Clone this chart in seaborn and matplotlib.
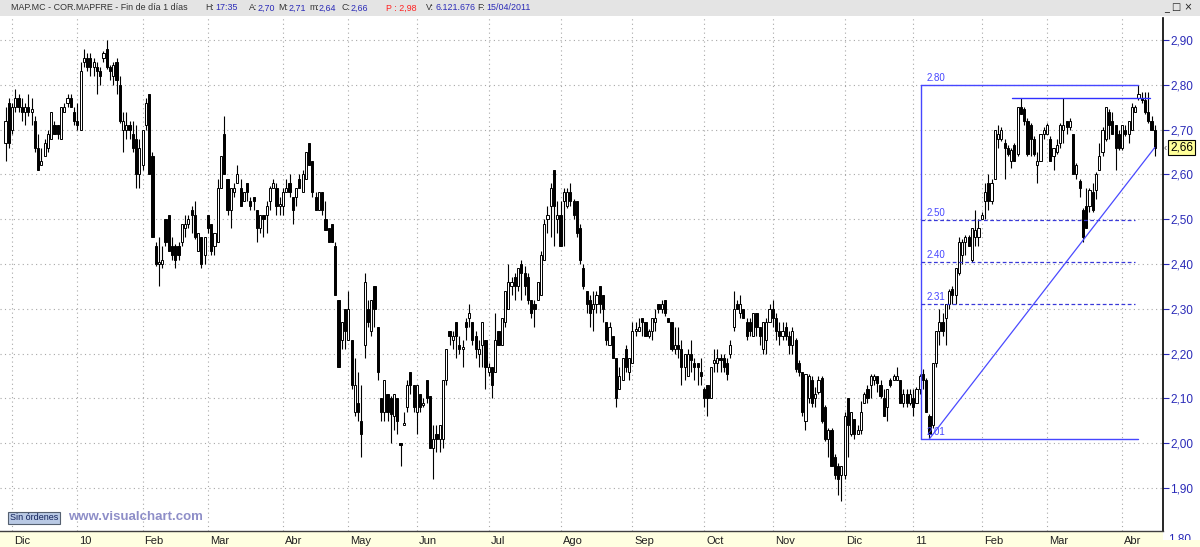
import matplotlib
matplotlib.use("Agg")
import matplotlib.pyplot as plt
import matplotlib.transforms as mtransforms
import numpy as np
import pandas as pd
import seaborn as sns

# ---- data: daily candles of COR.MAPFRE, 27/11/2009 .. 15/04/2011 ----
opens = [
    # Nov-Dec 2009
    2.67, 2.76, 2.70, 2.75, 2.77, 2.75, 2.74, 2.75, 2.74, 2.72, 2.66, 2.62, 2.64, 2.66, 2.68, 2.71, 2.71, 2.68, 2.74, 2.76, 2.77, 2.74,
    # Jan 2010
    2.72, 2.70, 2.85, 2.86, 2.86, 2.84, 2.84, 2.83, 2.86, 2.88, 2.84, 2.82, 2.85, 2.80, 2.70, 2.70, 2.71, 2.69, 2.68, 2.60,
    # Feb
    2.62, 2.71, 2.78, 2.64, 2.44, 2.40, 2.40, 2.50, 2.51, 2.44, 2.44, 2.44, 2.45, 2.48, 2.49, 2.52, 2.51, 2.43, 2.46, 2.42,
    # Mar
    2.51, 2.49, 2.44, 2.45, 2.57, 2.69, 2.59, 2.52, 2.56, 2.58, 2.57, 2.54, 2.58, 2.54, 2.55, 2.52, 2.48, 2.51, 2.51, 2.54, 2.57, 2.57, 2.53,
    # Apr
    2.53, 2.56, 2.58, 2.55, 2.55, 2.59, 2.56, 2.59, 2.67, 2.63, 2.55, 2.52, 2.56, 2.50, 2.48, 2.49, 2.44, 2.32, 2.23, 2.30,
    # May
    2.23, 2.23, 2.07, 2.09, 2.05, 2.22, 2.30, 2.25, 2.35, 2.26, 2.10, 2.07, 2.11, 2.10, 2.06, 2.10, 2.00, 2.04, 2.08, 2.16, 2.13,
    # Jun
    2.07, 2.11, 2.085, 2.14, 2.105, 1.99, 2.02, 2.01, 2.01, 2.14, 2.25, 2.23, 2.27, 2.22, 2.21, 2.27, 2.28, 2.27, 2.24, 2.20, 2.22, 2.23,
    # Jul
    2.16, 2.17, 2.16, 2.25, 2.22, 2.27, 2.30, 2.35, 2.37, 2.35, 2.40, 2.38, 2.37, 2.32, 2.31, 2.32, 2.33, 2.41, 2.50, 2.53, 2.61, 2.50,
    # Aug
    2.51, 2.54, 2.53, 2.56, 2.54, 2.54, 2.48, 2.39, 2.34, 2.32, 2.30, 2.31, 2.35, 2.33, 2.27, 2.22, 2.24, 2.19, 2.12, 2.14, 2.21, 2.16,
    # Sep
    2.18, 2.25, 2.25, 2.28, 2.27, 2.24, 2.25, 2.27, 2.31, 2.30, 2.32, 2.28, 2.27, 2.21, 2.22, 2.21, 2.17, 2.15, 2.20, 2.18, 2.18, 2.16,
    # Oct
    2.12, 2.13, 2.10, 2.18, 2.18, 2.19, 2.19, 2.18, 2.20, 2.26, 2.31, 2.29, 2.30, 2.27, 2.27, 2.24, 2.29, 2.26, 2.21, 2.23, 2.27,
    # Nov
    2.30, 2.28, 2.25, 2.24, 2.26, 2.24, 2.22, 2.23, 2.18, 2.16, 2.05, 2.10, 2.14, 2.10, 2.115, 2.145, 2.08, 2.01, 2.03, 1.97, 1.95, 1.93,
    # Dec
    1.93, 2.10, 2.02, 2.055, 2.02, 2.03, 2.09, 2.12, 2.13, 2.14, 2.15, 2.13, 2.10, 2.08, 2.14, 2.14, 2.14, 2.14, 2.09, 2.11, 2.09,
    # Jan 2011
    2.10, 2.09, 2.12, 2.155, 2.14, 2.06, 2.04, 2.18, 2.25, 2.27, 2.28, 2.31, 2.345, 2.33, 2.38, 2.42, 2.45, 2.46, 2.41, 2.46, 2.46,
    # Feb
    2.50, 2.54, 2.58, 2.54, 2.59, 2.68, 2.68, 2.67, 2.66, 2.63, 2.665, 2.645, 2.75, 2.745, 2.72, 2.71, 2.68, 2.62, 2.63, 2.69,
    # Mar
    2.69, 2.68, 2.64, 2.65, 2.67, 2.70, 2.72, 2.705, 2.69, 2.60, 2.585, 2.52, 2.53, 2.53, 2.56, 2.565, 2.61, 2.65, 2.68, 2.74, 2.72, 2.71, 2.69,
    # Apr
    2.66, 2.70, 2.69, 2.70, 2.74, 2.77, 2.77, 2.765, 2.74, 2.72, 2.70,
]
highs = [
    2.75, 2.77, 2.76, 2.79, 2.78, 2.77, 2.76, 2.78, 2.77, 2.73, 2.69, 2.66, 2.68, 2.70, 2.74, 2.72, 2.71, 2.75, 2.76, 2.78, 2.78, 2.75,
    2.76, 2.85, 2.88, 2.87, 2.87, 2.86, 2.85, 2.84, 2.875, 2.90, 2.845, 2.85, 2.86, 2.82, 2.74, 2.74, 2.72, 2.72, 2.71, 2.68,
    2.70, 2.77, 2.78, 2.65, 2.45, 2.46, 2.44, 2.50, 2.51, 2.46, 2.445, 2.45, 2.49, 2.51, 2.51, 2.53, 2.54, 2.47, 2.46, 2.46,
    2.51, 2.49, 2.47, 2.59, 2.64, 2.73, 2.59, 2.57, 2.58, 2.62, 2.59, 2.56, 2.58, 2.55, 2.55, 2.52, 2.51, 2.51, 2.54, 2.575, 2.59, 2.58, 2.55,
    2.57, 2.59, 2.60, 2.55, 2.57, 2.60, 2.61, 2.65, 2.67, 2.63, 2.56, 2.56, 2.56, 2.54, 2.48, 2.49, 2.45, 2.32, 2.27, 2.30,
    2.34, 2.23, 2.19, 2.16, 2.13, 2.38, 2.32, 2.32, 2.35, 2.26, 2.10, 2.14, 2.11, 2.105, 2.11, 2.10, 2.00, 2.07, 2.14, 2.16, 2.13,
    2.13, 2.11, 2.10, 2.14, 2.105, 2.04, 2.04, 2.04, 2.14, 2.21, 2.25, 2.25, 2.27, 2.24, 2.23, 2.28, 2.31, 2.27, 2.25, 2.23, 2.27, 2.23,
    2.18, 2.17, 2.29, 2.25, 2.28, 2.34, 2.40, 2.37, 2.38, 2.39, 2.41, 2.395, 2.38, 2.32, 2.32, 2.36, 2.43, 2.50, 2.53, 2.58, 2.61, 2.54,
    2.54, 2.57, 2.57, 2.58, 2.545, 2.54, 2.49, 2.40, 2.34, 2.33, 2.34, 2.34, 2.35, 2.33, 2.27, 2.27, 2.24, 2.19, 2.17, 2.19, 2.22, 2.19,
    2.27, 2.27, 2.28, 2.28, 2.27, 2.255, 2.28, 2.30, 2.31, 2.32, 2.32, 2.28, 2.27, 2.26, 2.26, 2.23, 2.20, 2.21, 2.23, 2.19, 2.18, 2.19,
    2.125, 2.13, 2.17, 2.21, 2.21, 2.20, 2.20, 2.19, 2.23, 2.34, 2.32, 2.33, 2.30, 2.28, 2.28, 2.29, 2.29, 2.26, 2.27, 2.28, 2.31,
    2.32, 2.29, 2.27, 2.27, 2.27, 2.25, 2.26, 2.235, 2.185, 2.16, 2.155, 2.155, 2.15, 2.125, 2.15, 2.15, 2.085, 2.035, 2.035, 1.975, 1.955, 1.95,
    2.07, 2.10, 2.07, 2.055, 2.04, 2.095, 2.115, 2.13, 2.155, 2.155, 2.15, 2.14, 2.12, 2.12, 2.145, 2.155, 2.17, 2.14, 2.12, 2.12, 2.12,
    2.12, 2.125, 2.155, 2.165, 2.145, 2.065, 2.18, 2.25, 2.30, 2.29, 2.31, 2.345, 2.35, 2.39, 2.46, 2.455, 2.465, 2.465, 2.48, 2.52, 2.50,
    2.515, 2.58, 2.60, 2.59, 2.70, 2.71, 2.705, 2.68, 2.665, 2.66, 2.67, 2.75, 2.77, 2.75, 2.725, 2.715, 2.685, 2.65, 2.69, 2.705,
    2.715, 2.685, 2.66, 2.68, 2.715, 2.77, 2.72, 2.725, 2.69, 2.625, 2.59, 2.525, 2.57, 2.57, 2.58, 2.605, 2.67, 2.705, 2.75, 2.745, 2.74, 2.71, 2.70,
    2.71, 2.71, 2.72, 2.76, 2.755, 2.80, 2.785, 2.785, 2.785, 2.73, 2.71,
]
lows = [
    2.63, 2.66, 2.69, 2.74, 2.74, 2.72, 2.71, 2.73, 2.71, 2.65, 2.61, 2.62, 2.64, 2.65, 2.68, 2.69, 2.68, 2.68, 2.74, 2.75, 2.75, 2.71,
    2.70, 2.70, 2.84, 2.83, 2.82, 2.82, 2.78, 2.80, 2.85, 2.835, 2.81, 2.80, 2.78, 2.715, 2.65, 2.68, 2.68, 2.65, 2.57, 2.57,
    2.61, 2.70, 2.60, 2.46, 2.395, 2.35, 2.39, 2.44, 2.43, 2.41, 2.39, 2.41, 2.44, 2.46, 2.48, 2.47, 2.455, 2.43, 2.39, 2.40,
    2.47, 2.42, 2.42, 2.45, 2.57, 2.60, 2.51, 2.48, 2.55, 2.58, 2.53, 2.54, 2.54, 2.52, 2.52, 2.45, 2.47, 2.46, 2.47, 2.52, 2.57, 2.51, 2.51,
    2.51, 2.56, 2.55, 2.49, 2.53, 2.57, 2.56, 2.59, 2.62, 2.55, 2.52, 2.52, 2.51, 2.475, 2.45, 2.45, 2.33, 2.17, 2.21, 2.21,
    2.23, 2.12, 2.06, 2.05, 1.97, 2.19, 2.26, 2.24, 2.26, 2.14, 2.05, 2.05, 2.05, 2.00, 2.03, 2.02, 1.95, 2.04, 2.07, 2.11, 2.07,
    2.02, 2.07, 2.08, 2.09, 1.99, 1.92, 1.98, 1.98, 1.99, 2.13, 2.22, 2.21, 2.19, 2.20, 2.17, 2.23, 2.26, 2.22, 2.19, 2.17, 2.17, 2.12,
    2.15, 2.10, 2.16, 2.22, 2.22, 2.26, 2.30, 2.33, 2.32, 2.34, 2.32, 2.33, 2.31, 2.28, 2.26, 2.32, 2.33, 2.41, 2.47, 2.46, 2.44, 2.47,
    2.44, 2.44, 2.525, 2.53, 2.50, 2.46, 2.40, 2.345, 2.29, 2.26, 2.25, 2.29, 2.29, 2.27, 2.22, 2.22, 2.19, 2.08, 2.12, 2.14, 2.16, 2.14,
    2.18, 2.24, 2.25, 2.24, 2.24, 2.235, 2.23, 2.25, 2.29, 2.29, 2.285, 2.27, 2.205, 2.20, 2.19, 2.13, 2.14, 2.15, 2.16, 2.14, 2.13, 2.13,
    2.08, 2.06, 2.10, 2.16, 2.16, 2.16, 2.16, 2.14, 2.19, 2.25, 2.30, 2.28, 2.28, 2.23, 2.24, 2.24, 2.24, 2.22, 2.20, 2.20, 2.27,
    2.26, 2.23, 2.22, 2.23, 2.23, 2.20, 2.20, 2.16, 2.15, 2.06, 2.03, 2.09, 2.08, 2.08, 2.11, 2.045, 2.005, 1.97, 1.95, 1.92, 1.885, 1.87,
    1.92, 1.97, 2.015, 2.01, 2.02, 2.02, 2.09, 2.09, 2.10, 2.13, 2.115, 2.10, 2.06, 2.05, 2.125, 2.14, 2.14, 2.09, 2.08, 2.08, 2.085,
    2.06, 2.09, 2.11, 2.12, 2.07, 2.01, 2.035, 2.17, 2.22, 2.24, 2.22, 2.30, 2.31, 2.31, 2.375, 2.40, 2.42, 2.44, 2.405, 2.44, 2.44,
    2.50, 2.50, 2.52, 2.535, 2.59, 2.66, 2.675, 2.59, 2.64, 2.615, 2.63, 2.64, 2.735, 2.71, 2.64, 2.64, 2.64, 2.58, 2.63, 2.68,
    2.69, 2.63, 2.61, 2.645, 2.66, 2.67, 2.69, 2.70, 2.60, 2.59, 2.55, 2.45, 2.48, 2.515, 2.515, 2.545, 2.61, 2.64, 2.675, 2.68, 2.69, 2.61, 2.655,
    2.655, 2.685, 2.67, 2.70, 2.74, 2.765, 2.76, 2.735, 2.715, 2.70, 2.64,
]
closes = [
    2.72, 2.67, 2.75, 2.77, 2.75, 2.74, 2.75, 2.74, 2.745, 2.66, 2.61, 2.63, 2.67, 2.69, 2.74, 2.69, 2.69, 2.75, 2.75, 2.77, 2.75, 2.72,
    2.71, 2.83, 2.86, 2.84, 2.84, 2.85, 2.83, 2.82, 2.87, 2.84, 2.83, 2.845, 2.81, 2.72, 2.72, 2.71, 2.70, 2.66, 2.60, 2.66,
    2.70, 2.76, 2.60, 2.46, 2.40, 2.405, 2.41, 2.45, 2.43, 2.42, 2.41, 2.42, 2.49, 2.49, 2.50, 2.51, 2.46, 2.47, 2.40, 2.46,
    2.48, 2.43, 2.47, 2.57, 2.64, 2.60, 2.52, 2.57, 2.57, 2.60, 2.53, 2.56, 2.56, 2.53, 2.54, 2.48, 2.51, 2.50, 2.53, 2.57, 2.58, 2.53, 2.535,
    2.56, 2.57, 2.56, 2.52, 2.57, 2.57, 2.60, 2.65, 2.62, 2.56, 2.52, 2.56, 2.52, 2.475, 2.45, 2.45, 2.33, 2.17, 2.27, 2.25,
    2.30, 2.13, 2.13, 2.07, 2.02, 2.36, 2.27, 2.32, 2.30, 2.16, 2.07, 2.14, 2.07, 2.065, 2.11, 2.05, 1.995, 2.045, 2.13, 2.13, 2.08,
    2.13, 2.08, 2.09, 2.10, 1.99, 2.01, 2.01, 2.04, 2.14, 2.21, 2.24, 2.24, 2.24, 2.21, 2.215, 2.26, 2.29, 2.23, 2.21, 2.21, 2.27, 2.17,
    2.17, 2.13, 2.23, 2.22, 2.28, 2.34, 2.36, 2.36, 2.35, 2.39, 2.38, 2.35, 2.32, 2.29, 2.30, 2.36, 2.42, 2.49, 2.51, 2.57, 2.53, 2.51,
    2.44, 2.56, 2.56, 2.54, 2.51, 2.47, 2.41, 2.35, 2.31, 2.29, 2.31, 2.33, 2.31, 2.30, 2.23, 2.26, 2.19, 2.10, 2.15, 2.19, 2.17, 2.19,
    2.25, 2.255, 2.26, 2.27, 2.24, 2.25, 2.28, 2.28, 2.30, 2.31, 2.29, 2.27, 2.21, 2.22, 2.21, 2.17, 2.20, 2.20, 2.185, 2.17, 2.17, 2.15,
    2.10, 2.10, 2.17, 2.185, 2.19, 2.185, 2.17, 2.155, 2.22, 2.30, 2.30, 2.31, 2.28, 2.24, 2.25, 2.29, 2.26, 2.24, 2.27, 2.27, 2.30,
    2.28, 2.25, 2.24, 2.25, 2.24, 2.22, 2.25, 2.165, 2.16, 2.07, 2.155, 2.15, 2.09, 2.11, 2.14, 2.05, 2.01, 2.03, 1.95, 1.93, 1.92, 1.95,
    2.06, 2.04, 2.07, 2.02, 2.03, 2.07, 2.11, 2.10, 2.15, 2.15, 2.135, 2.105, 2.06, 2.12, 2.13, 2.15, 2.15, 2.09, 2.11, 2.09, 2.11,
    2.08, 2.12, 2.15, 2.14, 2.07, 2.02, 2.18, 2.25, 2.27, 2.25, 2.31, 2.34, 2.33, 2.39, 2.45, 2.45, 2.46, 2.44, 2.48, 2.475, 2.48,
    2.51, 2.56, 2.54, 2.58, 2.70, 2.69, 2.70, 2.66, 2.645, 2.655, 2.63, 2.75, 2.735, 2.72, 2.645, 2.68, 2.645, 2.63, 2.69, 2.70,
    2.71, 2.63, 2.66, 2.665, 2.71, 2.71, 2.705, 2.72, 2.60, 2.62, 2.57, 2.46, 2.48, 2.565, 2.52, 2.60, 2.64, 2.70, 2.75, 2.71, 2.69, 2.66, 2.66,
    2.71, 2.69, 2.72, 2.75, 2.75, 2.78, 2.765, 2.74, 2.72, 2.70, 2.66,
]

# time axis: sessions per month (first entry = last two sessions of Nov 2009)
sessions = [2, 20, 20, 20, 23, 20, 21, 22, 22, 22, 22, 21, 22, 21, 21, 20, 23, 11]
month_labels = ["Dic", "10", "Feb", "Mar", "Abr", "May", "Jun", "Jul", "Ago",
                "Sep", "Oct", "Nov", "Dic", "11", "Feb", "Mar", "Abr"]
price_ticks = [1.90, 2.00, 2.10, 2.20, 2.30, 2.40, 2.50, 2.60, 2.70, 2.80, 2.90]

# drawing objects on the chart
resistance = 2.77
resistance_span = (308.2, 350.6)
fib_ratios = [0.382, 0.5, 0.618]

header_parts = [
    ("MAP.MC - COR.MAPFRE - Fin de día 1 días", "#333333", 11),
    ("H:", "#333333", 205), ("17:35", "#2a2ab8", 215),
    ("A:", "#333333", 249), ("2,70", "#2a2ab8", 258),
    ("M:", "#333333", 278), ("2,71", "#2a2ab8", 289),
    ("m:", "#333333", 309), ("2,64", "#2a2ab8", 319),
    ("C:", "#333333", 341), ("2,66", "#2a2ab8", 351),
    ("P : 2,98", "#ff2020", 386),
    ("V:", "#333333", 426), ("6.121.676", "#2a2ab8", 435),
    ("F:", "#333333", 477), ("15/04/2011", "#2a2ab8", 486),
]

df = pd.DataFrame({"o": opens, "h": highs, "l": lows, "c": closes})
df["i"] = np.arange(len(df))

sns.set_style("white")
plt.rcParams["font.family"] = ["Liberation Sans", "DejaVu Sans"]

W, H = 1200, 547
fig = plt.figure(figsize=(12, 5.47), dpi=100)
fig.patch.set_facecolor("white")


def box(x0, y0, x1, y1):
    return [x0 / W, 1 - y1 / H, (x1 - x0) / W, (y1 - y0) / H]


def price_at(y):
    return 2.90 - (y - 40) / 448.0


def plain(a, color):
    a.set_facecolor(color)
    a.set_xticks([]); a.set_yticks([])
    for s in a.spines.values():
        s.set_visible(False)


# bottom yellow strip and header bar
strip = fig.add_axes(box(0, 531, 1163, 547), zorder=0)
plain(strip, "#ffffe1")
strip_r = fig.add_axes(box(1163, 540, 1200, 547), zorder=5)
plain(strip_r, "#ffffe1")
head = fig.add_axes(box(0, 0, 1200, 16), zorder=0)
plain(head, "#e4e4e4")

ax = fig.add_axes(box(0, 18, 1163, 531), zorder=1)
ax.set_facecolor("white")
ax.set_xlim(-5.5 / 3.265, (1163 - 5.5) / 3.265)
ax.set_ylim(price_at(531), price_at(18))

# grid
month_pos = np.cumsum(sessions)[:-1]
ax.set_xticks(month_pos)
ax.set_xticklabels([])
ax.set_yticks(price_ticks)
ax.grid(True, color="#a8a8a8", linestyle=(0, (1, 3)), linewidth=0.8)
ax.set_axisbelow(True)

# candles
up = df.c >= df.o
ax.vlines(df.i, df.l, df.h, color="black", lw=0.8, zorder=2)
ax.bar(df.i[up], (df.c - df.o)[up], bottom=df.o[up], width=0.66,
       color="white", edgecolor="black", lw=0.7, zorder=3)
ax.bar(df.i[~up], (df.o - df.c)[~up], bottom=df.c[~up], width=0.66,
       color="black", edgecolor="black", lw=0.7, zorder=3)

# fibonacci retracement between the 2011 low and the april high
lo_i = int(df.l[270:].idxmin())
hi_i = int(df.h[300:].idxmax())
lo, hi = df.l[lo_i], df.h[hi_i]
left = lo_i - 2.5
fib_blue = "#4646ff"
ax.plot([left, left], [lo, hi], color=fib_blue, lw=1.0, zorder=4)
for lev in [hi, lo]:
    ax.plot([left, hi_i], [lev, lev], color=fib_blue, lw=1.0, zorder=4)
    ax.text(left + 1.5, lev + 0.004, f"{lev:.2f}", color=fib_blue, fontsize=7,
            va="bottom", ha="left", zorder=5)
for r in fib_ratios:
    lev = hi - (hi - lo) * r
    ax.plot([left, hi_i - 1], [lev, lev], color="#3838d8", lw=0.9,
            linestyle=(0, (3, 2)), zorder=4)
    ax.text(left + 1.5, lev + 0.004, f"{lev:.2f}", color=fib_blue, fontsize=7,
            va="bottom", ha="left", zorder=5)

# resistance and trend line
res = pd.DataFrame({"x": list(resistance_span), "y": [resistance, resistance]})
sns.lineplot(data=res, x="x", y="y", ax=ax, color="#3030ff", lw=1.0, zorder=4)
last_i = len(df) - 1
trend = pd.DataFrame({"x": [lo_i, last_i], "y": [lo, df.c[last_i]]})
sns.lineplot(data=trend, x="x", y="y", ax=ax, color="#4a4aff", lw=0.9, zorder=4)
ax.set_xlabel(""); ax.set_ylabel("")

# axes styling
for side in ["left", "top"]:
    ax.spines[side].set_visible(False)
ax.spines["right"].set_color("black"); ax.spines["right"].set_linewidth(1.2)
ax.spines["bottom"].set_color("#404040"); ax.spines["bottom"].set_linewidth(1.0)
ax.yaxis.tick_right()
ax.set_yticklabels([f"{v:.2f}".replace(".", ",") for v in price_ticks])
ax.tick_params(axis="y", direction="out", length=4, width=0.8, colors="#2a2ab8",
               labelsize=8.5, pad=1)
ax.tick_params(axis="x", direction="out", length=5, width=0.8, color="#404040")

# the 1,80 label sits half hidden behind the bottom strip
ty = mtransforms.blended_transform_factory(fig.transFigure, ax.transData)
fig.text(1168 / W, 1 - 539 / H, "1,80", fontsize=8.5, color="#2a2ab8",
         ha="left", va="center", zorder=2)

# month labels
tx = mtransforms.blended_transform_factory(ax.transData, fig.transFigure)
for pos, lab in zip(month_pos, month_labels):
    ax.text(pos + 0.6, 1 - 541 / H, lab, transform=tx, fontsize=8,
            color="#202020", ha="left", va="center", clip_on=False)

# last price marker
ax.text(1170 / W, df.c[last_i], f"{df.c[last_i]:.2f}".replace(".", ","), transform=ty,
        fontsize=8.5, color="black", ha="left", va="center", clip_on=False,
        bbox=dict(boxstyle="square,pad=0.15", fc="#ffff99", ec="black", lw=0.8))
ax.text(1164 / W, df.c[last_i], "‹", transform=ty, fontsize=7, color="#555555",
        ha="left", va="center", clip_on=False)

# header text
for txt, col, x in header_parts:
    fig.text(x / W, 1 - 8 / H, txt, fontsize=6.4, color=col, ha="left", va="center")
fig.text(1164 / W, 1 - 8 / H, "_ □ ×", fontsize=7, color="#222222", ha="left",
         va="center", family=["DejaVu Sans"])

# watermark and order box
fig.text(10 / W, 1 - 518 / H, "Sin órdenes", fontsize=6.5, color="#10205a",
         ha="left", va="center",
         bbox=dict(boxstyle="square,pad=0.2", fc="#b9c9e4", ec="#556070", lw=0.8))
fig.text(68 / W, 1 - 517 / H, "www.visualchart.com", fontsize=9.5, fontweight="bold",
         color="#8e8ec8", ha="left", va="center")

fig.savefig("out.png", dpi=100, facecolor=fig.get_facecolor())
